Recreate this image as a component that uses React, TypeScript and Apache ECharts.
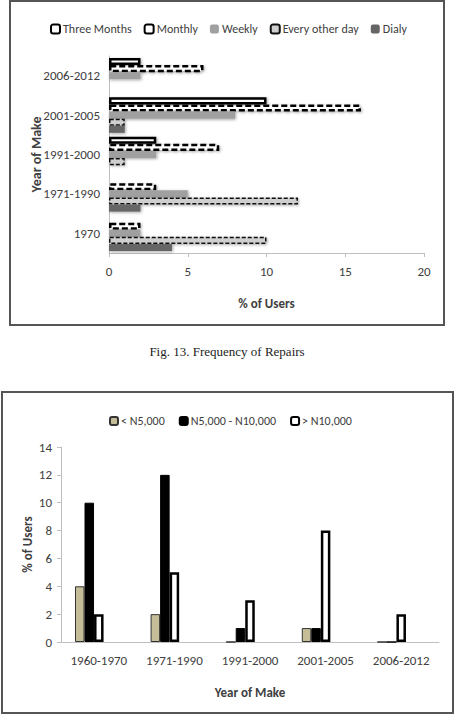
import React, { useEffect, useRef } from "react";
import * as echarts from "echarts";

// ---- Fig. 13: Frequency of Repairs (horizontal bars) ----
const repairCategories = ["1970", "1971-1990", "1991-2000", "2001-2005", "2006-2012"];
const repairSeriesNames = ["Three Months", "Monthly", "Weekly", "Every other day", "Dialy"];
const threeMonths = [0, 0, 3, 10, 2];
const monthly = [2, 3, 7, 16, 6];
const weekly = [2, 5, 3, 8, 2];
const everyOtherDay = [10, 12, 1, 1, 0];
const daily = [4, 2, 0, 1, 0];
const repairAxisMin = 0;
const repairAxisMax = 20;
const repairAxisStep = 5;

// ---- Cost of repairs by year of make (vertical bars) ----
const costCategories = ["1960-1970", "1971-1990", "1991-2000", "2001-2005", "2006-2012"];
const costSeriesNames = ["< N5,000", "N5,000 - N10,000", "> N10,000"];
const under5k = [4, 2, 0, 1, 0];
const between5kAnd10k = [10, 12, 1, 1, 0];
const over10k = [2, 5, 3, 8, 2];
const emptySlotA: (number | null)[] = [null, null, null, null, null];
const emptySlotB: (number | null)[] = [null, null, null, null, null];
const costAxisMin = 0;
const costAxisMax = 14;
const costAxisStep = 2;

const caption = "Fig. 13. Frequency of Repairs";

const FONT = "Carlito, Lato, 'Liberation Sans', sans-serif";
const TXT = "#404040";
const AXIS = "#bfbfbf";
const shadow = {
  shadowColor: "rgba(0,0,0,0.35)",
  shadowBlur: 3,
  shadowOffsetX: 1,
  shadowOffsetY: 1,
};

export default function App() {
  const ref = useRef<HTMLDivElement>(null);

  useEffect(() => {
    if (!ref.current) return;
    const chart = echarts.init(ref.current, null, { renderer: "svg" });

    const hBar = (name: string, data: number[], itemStyle: any) => ({
      type: "bar",
      name,
      data,
      xAxisIndex: 0,
      yAxisIndex: 0,
      barGap: "0%",
      barCategoryGap: "10%",
      itemStyle: { ...itemStyle, ...shadow },
    });

    const vBar = (name: string, data: (number | null)[], itemStyle: any) => ({
      type: "bar",
      name,
      data,
      xAxisIndex: 1,
      yAxisIndex: 1,
      barGap: "0%",
      barCategoryGap: "37%",
      itemStyle,
    });

    const option: any = {
      animation: false,
      textStyle: { fontFamily: FONT },
      graphic: [
        {
          type: "rect",
          shape: { x: 10, y: 1, width: 434, height: 324 },
          style: { fill: "none", stroke: "#555", lineWidth: 2 },
          silent: true,
        },
        {
          type: "rect",
          shape: { x: 2, y: 392, width: 451, height: 321 },
          style: { fill: "none", stroke: "#555", lineWidth: 2 },
          silent: true,
        },
        {
          type: "text",
          x: 227,
          y: 351,
          style: {
            text: caption,
            fontFamily: "'Liberation Serif', 'Times New Roman', serif",
            fontSize: 13,
            fill: "#222",
            textAlign: "center",
            textVerticalAlign: "middle",
          },
        },
      ],
      legend: [
        {
          data: repairSeriesNames,
          left: 45,
          top: 18,
          itemWidth: 9,
          itemHeight: 9,
          itemGap: 12,
          textStyle: { fontFamily: FONT, fontSize: 12, color: TXT, padding: [0, 0, 0, -2] },
        },
        {
          data: costSeriesNames,
          left: 104,
          top: 410,
          itemWidth: 8,
          itemHeight: 8,
          itemGap: 14,
          textStyle: { fontFamily: FONT, fontSize: 12, color: TXT, padding: [0, 0, 0, -2] },
        },
      ],
      grid: [
        { left: 109, right: 31, top: 56, height: 197 },
        { left: 61, right: 16, top: 447, height: 195 },
      ],
      xAxis: [
        {
          type: "value",
          gridIndex: 0,
          min: repairAxisMin,
          max: repairAxisMax,
          interval: repairAxisStep,
          axisLine: { show: true, lineStyle: { color: AXIS } },
          axisTick: { show: true, length: 4, lineStyle: { color: AXIS } },
          splitLine: { show: false },
          axisLabel: { color: TXT, fontSize: 13, margin: 12, fontFamily: FONT },
          name: "% of Users",
          nameLocation: "middle",
          nameGap: 44,
          nameMoveOverlap: false,
          nameTextStyle: { fontWeight: "bold", fontSize: 13, color: TXT, fontFamily: FONT },
        },
        {
          type: "category",
          gridIndex: 1,
          data: costCategories,
          axisLine: { show: true, lineStyle: { color: AXIS } },
          axisTick: { show: false },
          axisLabel: { color: TXT, fontSize: 13, margin: 12, fontFamily: FONT },
          name: "Year of Make",
          nameLocation: "middle",
          nameGap: 44,
          nameMoveOverlap: false,
          nameTextStyle: { fontWeight: "bold", fontSize: 13, color: TXT, fontFamily: FONT },
        },
      ],
      yAxis: [
        {
          type: "category",
          gridIndex: 0,
          data: repairCategories,
          axisLine: { show: true, lineStyle: { color: AXIS } },
          axisTick: { show: false },
          axisLabel: { color: TXT, fontSize: 13, margin: 9, fontFamily: FONT },
          name: "Year of Make",
          nameLocation: "middle",
          nameGap: 66,
          nameRotate: 90,
          nameMoveOverlap: false,
          nameTextStyle: { fontWeight: "bold", fontSize: 14, color: TXT, fontFamily: FONT },
        },
        {
          type: "value",
          gridIndex: 1,
          min: costAxisMin,
          max: costAxisMax,
          interval: costAxisStep,
          axisLine: { show: true, lineStyle: { color: AXIS } },
          axisTick: { show: true, length: 4, lineStyle: { color: AXIS } },
          splitLine: { show: false },
          axisLabel: { color: TXT, fontSize: 13, margin: 9, fontFamily: FONT },
          name: "% of Users",
          nameLocation: "middle",
          nameGap: 27,
          nameRotate: 90,
          nameMoveOverlap: false,
          nameTextStyle: { fontWeight: "bold", fontSize: 13, color: TXT, fontFamily: FONT },
        },
      ],
      series: [
        hBar(repairSeriesNames[0], threeMonths, {
          color: "#ffffff",
          borderColor: "#000",
          borderWidth: 2.5,
        }),
        hBar(repairSeriesNames[1], monthly, {
          color: "#ffffff",
          borderColor: "#000",
          borderWidth: 2.5,
          borderType: [6, 3],
        }),
        hBar(repairSeriesNames[2], weekly, {
          color: "#a0a0a0",
          borderWidth: 0,
        }),
        hBar(repairSeriesNames[3], everyOtherDay, {
          color: "#cfcfcf",
          borderColor: "#111",
          borderWidth: 1.5,
          borderType: [4, 2],
        }),
        hBar(repairSeriesNames[4], daily, {
          color: "#666666",
          borderWidth: 0,
        }),
        vBar(costSeriesNames[0], under5k, {
          color: "#c4bd97",
          borderColor: "#333",
          borderWidth: 1,
        }),
        vBar(costSeriesNames[1], between5kAnd10k, {
          color: "#000000",
          borderColor: "#000",
          borderWidth: 1,
        }),
        vBar(costSeriesNames[2], over10k, {
          color: "#ffffff",
          borderColor: "#000",
          borderWidth: 2.5,
        }),
        vBar("", emptySlotA, { color: "#ffffff" }),
        vBar(" ", emptySlotB, { color: "#ffffff" }),
      ],
    };

    chart.setOption(option);
    return () => chart.dispose();
  }, []);

  return (
    <div
      ref={ref}
      style={{ position: "absolute", left: 0, top: 0, width: 455, height: 723, background: "#fff" }}
    />
  );
}
